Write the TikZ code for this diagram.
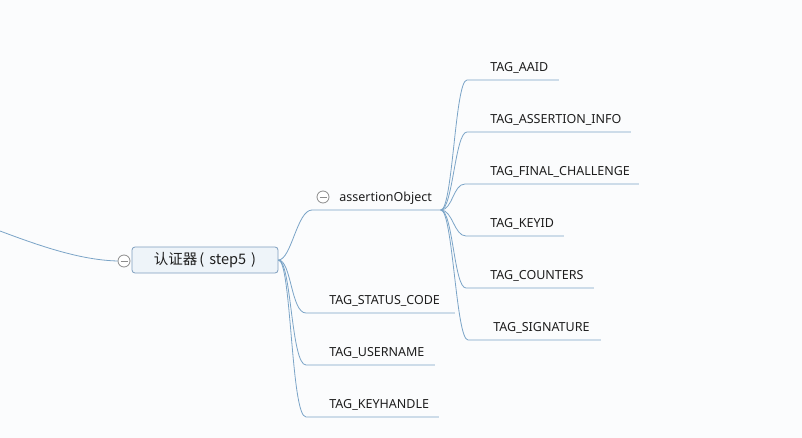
\documentclass[tikz,border=0pt]{standalone}
\usepackage{fontspec}
\setmainfont{Noto Sans}
\newfontfamily\cjk{Noto Sans CJK SC}

\begin{document}
\begin{tikzpicture}[x=1pt, y=-1pt, line width=0.8pt,
    branch/.style={
      draw=linecolor,
      line width=0.8pt
    },
    topic/.style={
      draw=boxborder,
      fill=boxfill,
      rounded corners=3pt,
      minimum width=146pt,
      minimum height=26pt,
      inner sep=0pt,
      text=textcolor,
      font=\cjk\fontsize{14.5}{16}\selectfont
    },
    leaf/.style={
      anchor=south west,
      align=left,
      inner xsep=0pt,
      inner ysep=5pt,
      text height=9pt,
      text depth=3pt,
      text=textcolor,
      font=\fontsize{12.5}{14}\selectfont
    },
    toggle/.style={
      circle,
      draw=togglecolor,
      fill=white,
      inner sep=0pt,
      minimum size=12pt,
      line width=0.8pt
    }]
    % Define colors
    \definecolor{bgcolor}{RGB}{251, 252, 253}
    \definecolor{linecolor}{RGB}{122, 164, 199}
    \definecolor{boxborder}{RGB}{125, 158, 190}
    \definecolor{boxfill}{RGB}{238, 244, 249}
    \definecolor{togglecolor}{RGB}{140, 140, 140}
    \definecolor{textcolor}{RGB}{30, 30, 30}

    \useasboundingbox (0,0) rectangle (802,438);
    \fill[bgcolor] (0,0) rectangle (802,438);

    % central topic and its parent line
    \node[topic] (auth) at (205,260) {认证器\hspace{2pt}(\hspace{5pt}step5\hspace{5pt})};
    \node[toggle] (fold0) at (124,261) {};
    \draw[togglecolor] ([xshift=-3.5pt]fold0.center) -- ([xshift=3.5pt]fold0.center);
    \coordinate (parent) at (0,231);
    \draw[branch] (parent) .. controls (40,246) and (80,260) .. (fold0.west);

    % first level
    \node[leaf, text width=128pt] (aobj) at (312,210) {\hspace*{27pt}assertionObject};
    \node[leaf, text width=148pt] (status) at (306,313) {\hspace*{23pt}TAG\_STATUS\_CODE};
    \node[leaf, text width=128pt] (user) at (306,365) {\hspace*{23pt}TAG\_USERNAME};
    \node[leaf, text width=132pt] (khandle) at (306,417) {\hspace*{23pt}TAG\_KEYHANDLE};
    \node[toggle] (fold1) at (323,197) {};
    \draw[togglecolor] ([xshift=-3.5pt]fold1.center) -- ([xshift=3.5pt]fold1.center);

    \foreach \leafname in {aobj, status, user, khandle}
      \draw[branch] (auth.east) .. controls +(13,0) and +(-15,0) .. (\leafname.south west) -- (\leafname.south east);

    % second level
    \node[leaf, text width=91pt] (aaid) at (467,80) {\hspace*{23pt}TAG\_AAID};
    \node[leaf, text width=163pt] (ainfo) at (467,132) {\hspace*{23pt}TAG\_ASSERTION\_INFO};
    \node[leaf, text width=173pt] (fchal) at (465,184) {\hspace*{25pt}TAG\_FINAL\_CHALLENGE};
    \node[leaf, text width=97pt] (keyid) at (466,236) {\hspace*{24pt}TAG\_KEYID};
    \node[leaf, text width=127pt] (counters) at (466,288) {\hspace*{24pt}TAG\_COUNTERS};
    \node[leaf, text width=132pt] (sig) at (468,340) {\hspace*{25pt}TAG\_SIGNATURE};

    \foreach \leafname in {aaid, ainfo, fchal, keyid, counters, sig}
      \draw[branch] (aobj.south east) .. controls +(12,0) and +(-12,0) .. (\leafname.south west) -- (\leafname.south east);
\end{tikzpicture}
\end{document}
